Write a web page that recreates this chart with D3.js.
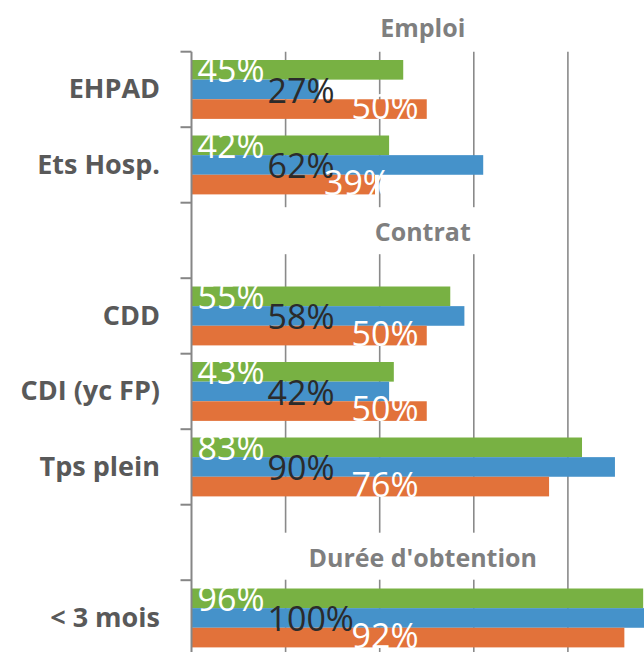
<!DOCTYPE html>
<html>
<head>
<meta charset="utf-8">
<script src="https://cdn.jsdelivr.net/npm/d3@7/dist/d3.min.js"></script>
<style>
  html, body { margin: 0; padding: 0; background: #ffffff; }
  svg { display: block; }
</style>
</head>
<body>
<div id="chart"></div>
<script>
// ---------- DATA ----------
const categories = ["EHPAD", "Ets Hosp.", "_h2", "CDD", "CDI (yc FP)", "Tps plein", "_h3", "< 3 mois"];
const seriesNames = ["Série 1", "Série 2", "Série 3"];
const serieGreen  = [45, 42, null, 55, 43, 83, null, 96];
const serieBlue   = [27, 62, null, 58, 42, 90, null, 100];
const serieOrange = [50, 39, null, 50, 50, 76, null, 92];
const sectionHeaders = ["Emploi", "Contrat", "Durée d'obtention"];
const sectionSlots = [null, "_h2", "_h3"];   // category slot each header sits in (null = above plot)
const gridTicks = [20, 40, 60, 80, 100];

// ---------- LAYOUT ----------
const W = 644, H = 652;
const colors = ["#78B143", "#4592CA", "#E2723A"];
const labelColors = ["#ffffff", "#2b2b2b", "#ffffff"];

const svg = d3.select("#chart").append("svg")
  .attr("width", W).attr("height", H)
  .style("font-family", "'Open Sans', 'Noto Sans', sans-serif");

svg.append("rect").attr("width", W).attr("height", H).attr("fill", "#fff");

const x = d3.scaleLinear().domain([0, 100]).range([191.5, 662]);
const y = d3.scaleBand().domain(categories).range([51.7, 655.7])
  .paddingInner(0.22).paddingOuter(0.11);
const step = y.step();
const bandTop = c => y(c) - (step - y.bandwidth()) / 2;
const inner = d3.scaleBand().domain(seriesNames).range([0, y.bandwidth()]);

// gridlines
const gridG = svg.append("g");
gridG.selectAll("line").data(gridTicks).join("line")
  .attr("x1", d => x(d)).attr("x2", d => x(d))
  .attr("y1", y.range()[0]).attr("y2", H)
  .attr("stroke", "#8a8a8a").attr("stroke-width", 1.6);

// header white boxes (cover gridlines)
const headerDy = [-15, 38.5, 62];
const headerY = sectionHeaders.map((h, i) =>
  (sectionSlots[i] === null ? y.range()[0] : bandTop(sectionSlots[i])) + headerDy[i]);
const headerCx = (x(0) + W) / 2 + 5;

svg.append("g").selectAll("rect").data(sectionHeaders).join("rect")
  .attr("x", 196).attr("width", 345)
  .attr("y", (d, i) => headerY[i] - 34).attr("height", 47)
  .attr("fill", "#fff")
  .attr("display", (d, i) => sectionSlots[i] === null ? "none" : null);

// bars
const series = [serieGreen, serieBlue, serieOrange];
const barData = [];
series.forEach((vals, si) => {
  vals.forEach((v, ci) => {
    if (v !== null) barData.push({ si, cat: categories[ci], v });
  });
});

svg.append("g").selectAll("rect").data(barData).join("rect")
  .attr("x", x(0))
  .attr("y", d => y(d.cat) + inner(seriesNames[d.si]))
  .attr("width", d => x(d.v) - x(0))
  .attr("height", inner.bandwidth())
  .attr("fill", d => colors[d.si]);

// axis line + ticks at band boundaries
const axisG = svg.append("g");
axisG.append("line")
  .attr("x1", x(0)).attr("x2", x(0))
  .attr("y1", y.range()[0]).attr("y2", H)
  .attr("stroke", "#868686").attr("stroke-width", 2);
const boundaries = categories.map(c => bandTop(c)).concat([bandTop(categories[categories.length - 1]) + step]);
axisG.selectAll("line.tick").data(boundaries).join("line")
  .attr("class", "tick")
  .attr("x1", x(0) - 11).attr("x2", x(0))
  .attr("y1", d => d).attr("y2", d => d)
  .attr("stroke", "#868686").attr("stroke-width", 2);

// category labels
svg.append("g").selectAll("text").data(categories.filter(c => !c.startsWith("_"))).join("text")
  .attr("x", 160)
  .attr("y", d => y(d) + y.bandwidth() / 2 + 9)
  .attr("text-anchor", "end")
  .attr("font-size", 27).attr("font-weight", 700)
  .attr("fill", "#595959")
  .text(d => d);

// data labels
const labelX = d => {
  const x0 = x(0);
  if (d.si === 0) return x0 + 6;
  if (d.si === 1) return x0 + 76;
  return Math.min(x0 + 160, x(d.v) - 51);
};
const labelDy = [2.5, 3.5, 0.5];
svg.append("g").selectAll("text").data(barData).join("text")
  .attr("x", labelX)
  .attr("y", d => y(d.cat) + inner(seriesNames[d.si]) + inner.bandwidth() + labelDy[d.si])
  .attr("font-size", 34)
  .attr("fill", d => labelColors[d.si])
  .text(d => d.v + "%");

// section headers
svg.append("g").selectAll("text").data(sectionHeaders).join("text")
  .attr("x", headerCx)
  .attr("y", (d, i) => headerY[i])
  .attr("text-anchor", "middle")
  .attr("font-size", 25).attr("font-weight", 700)
  .attr("fill", "#7f7f7f")
  .text(d => d);
</script>
</body>
</html>
